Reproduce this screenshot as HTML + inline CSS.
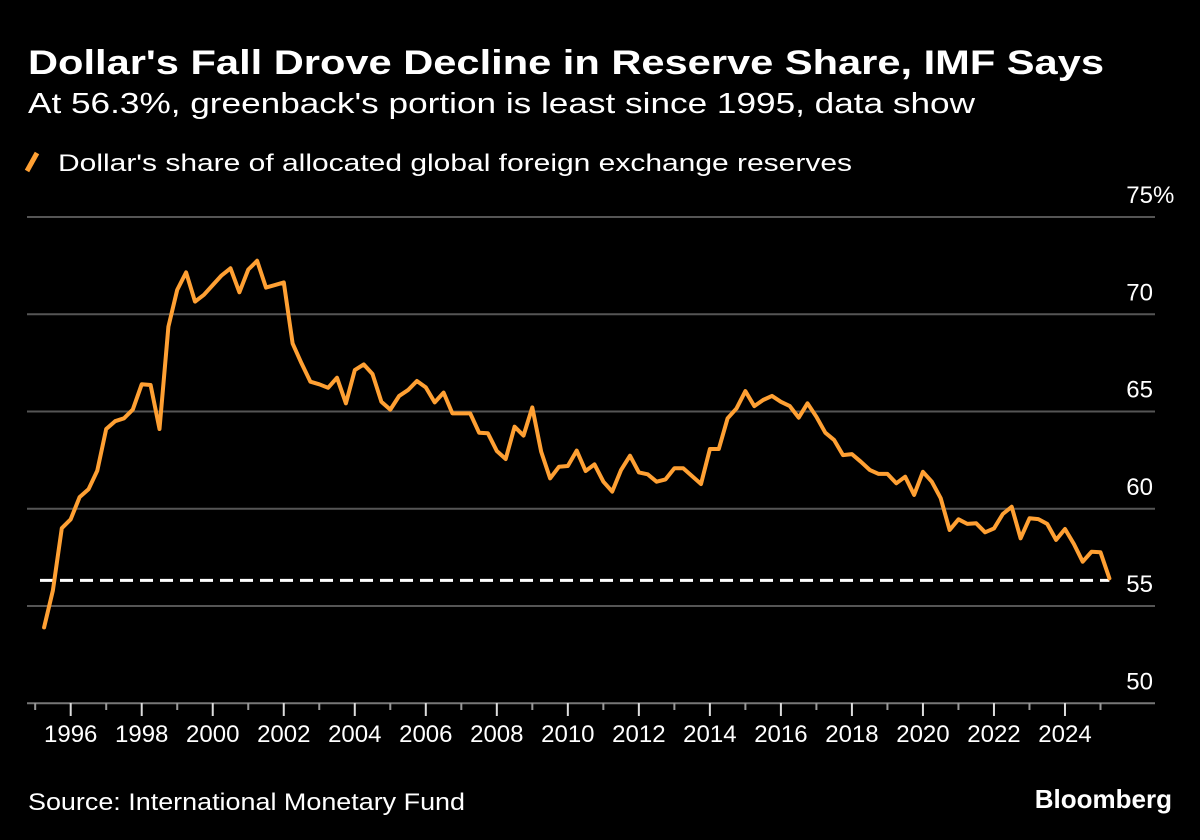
<!DOCTYPE html>
<html><head><meta charset="utf-8"><style>
html,body{margin:0;padding:0;background:#000;}
svg{display:block;font-family:"Liberation Sans",sans-serif;}
</style></head><body>
<svg id="chart" width="1200" height="840" viewBox="0 0 1200 840" xmlns="http://www.w3.org/2000/svg">
<rect width="1200" height="840" fill="#000"/>
<text x="28" y="74" fill="#fff" font-size="34" font-weight="bold" textLength="1076" lengthAdjust="spacingAndGlyphs">Dollar's Fall Drove Decline in Reserve Share, IMF Says</text>
<text x="28" y="113" fill="#fff" font-size="29" textLength="947" lengthAdjust="spacingAndGlyphs">At 56.3%, greenback's portion is least since 1995, data show</text>
<line x1="27" y1="171" x2="37" y2="153" stroke="#ffa033" stroke-width="5"/>
<text x="58" y="171" fill="#fff" font-size="24" textLength="794" lengthAdjust="spacingAndGlyphs">Dollar's share of allocated global foreign exchange reserves</text>
<g id="grid"></g>
<g id="xaxis"></g>
<g id="series"></g>
<text x="28" y="810" fill="#fff" font-size="24" textLength="437" lengthAdjust="spacingAndGlyphs">Source: International Monetary Fund</text>
<text x="1172" y="808" fill="#fff" font-size="26" font-weight="bold" text-anchor="end">Bloomberg</text>
</svg>
<script>
const startYear = 1995;
const values = [
53.9,55.8,59.0,59.46, 60.6,61.0,61.96,64.1, 64.5,64.65,65.1,66.4, 66.36,64.1,69.36,71.25,
72.15,70.65,71.0,71.5, 72.0,72.36,71.13,72.3, 72.75,71.37,71.5,71.64, 68.5,67.48,66.53,66.4,
66.22,66.74,65.42,67.13, 67.42,66.93,65.5,65.1, 65.8,66.1,66.57,66.24, 65.47,65.97,64.9,64.9,
64.9,63.91,63.88,62.97, 62.56,64.22,63.76,65.21, 62.93,61.56,62.16,62.2, 62.99,61.94,62.28,61.39,
60.88,62.0,62.73,61.87, 61.77,61.39,61.51,62.08, 62.08,61.68,61.27,63.07, 63.07,64.65,65.16,66.05,
65.28,65.59,65.8,65.5, 65.28,64.68,65.42,64.73, 63.91,63.53,62.76,62.81, 62.42,62.0,61.79,61.79,
61.31,61.65,60.71,61.9, 61.39,60.54,58.91,59.46, 59.22,59.25,58.79,58.99, 59.73,60.1,58.48,59.51,
59.47,59.22,58.4,58.96, 58.19,57.28,57.79,57.76, 56.42];
const yTicks = [50,55,60,65,70,75];
const yTickLabels = ["50","55","60","65","70","75%"];
const xTickYears = [1996,1998,2000,2002,2004,2006,2008,2010,2012,2014,2016,2018,2020,2022,2024];
const minorYears = [1995,1997,1999,2001,2003,2005,2007,2009,2011,2013,2015,2017,2019,2021,2023,2025];
const latestValue = 56.32;

const NS="http://www.w3.org/2000/svg";
function xs(t){return 70.7+(t-1996)*35.51;}
function ys(v){return 606-(v-55)*19.45;}
function mk(tag,attrs,parent){const e=document.createElementNS(NS,tag);for(const k in attrs)e.setAttribute(k,attrs[k]);parent.appendChild(e);return e;}
const grid=document.getElementById('grid'),xa=document.getElementById('xaxis'),se=document.getElementById('series');
yTicks.forEach((v,i)=>{
  const l=mk('line',{x1:27,x2:1155,y1:ys(v),y2:ys(v),stroke:v===50?'#777':'#555','stroke-width':2},grid);
  
  
  const lab=yTickLabels[i];
  const t=mk('text',{x:1153,y:ys(v)-14,fill:'#fff','font-size':24,'text-anchor':'end'},grid);
  t.textContent=lab.replace('%','');
  
  
  if(lab.indexOf('%')>=0){const p=mk('text',{x:1153,y:ys(v)-14,fill:'#fff','font-size':24},grid);p.textContent='%';
    
    }
});
xTickYears.forEach(yr=>{
  const l=mk('line',{x1:xs(yr),x2:xs(yr),y1:703,y2:716,stroke:'#ddd','stroke-width':2},xa);
  
  
  const t=mk('text',{x:xs(yr),y:742,fill:'#fff','font-size':24,'text-anchor':'middle'},xa);
  t.textContent=yr;
  
  
});
minorYears.forEach(yr=>{
  const l=mk('line',{x1:xs(yr),x2:xs(yr),y1:703,y2:710,stroke:'#999','stroke-width':2},xa);
  
  
});
const dash=mk('line',{x1:40,x2:xs(startYear+values.length/4),y1:ys(latestValue),y2:ys(latestValue),stroke:'#fff','stroke-width':3,'stroke-dasharray':'13 7'},se);


const pts=values.map((v,i)=>xs(startYear+(i+1)/4).toFixed(1)+','+ys(v).toFixed(1)).join(' ');
const pl=mk('polyline',{points:pts,fill:'none',stroke:'#ffa033','stroke-width':4,'stroke-linejoin':'round','stroke-linecap':'round'},se);


</script>
</body></html>
